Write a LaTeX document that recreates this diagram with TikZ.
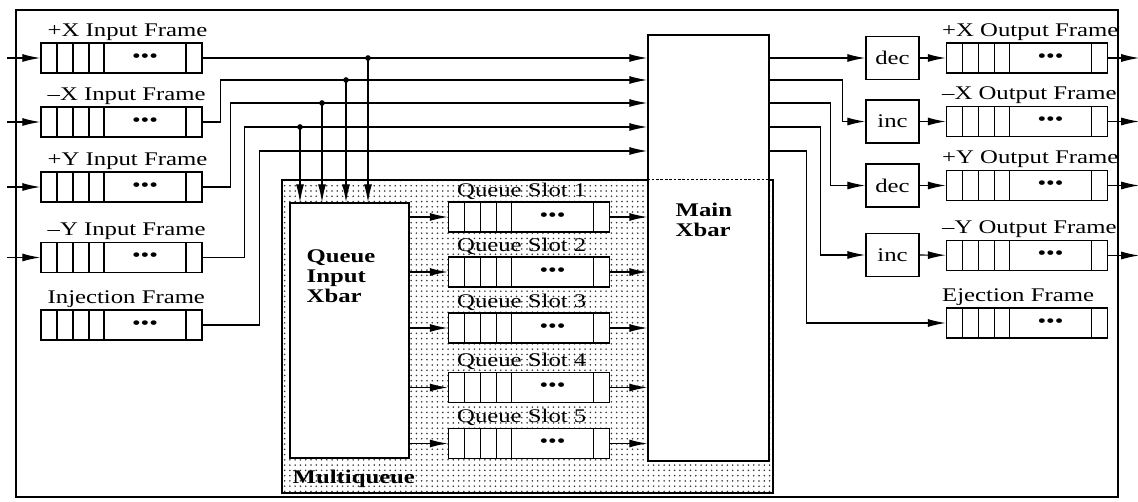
\documentclass[tikz,border=0pt]{standalone}
\usepackage{fontspec}
\setmainfont{Liberation Serif}[FakeStretch=1.28]
\usetikzlibrary{arrows.meta}
\usetikzlibrary{patterns}
\newcommand{\pxl}{0.02cm}
\newcommand{\lblfont}{\fontsize{11}{12}\selectfont}
\newcommand{\boldlbl}{\fontsize{11}{11.5}\selectfont\bfseries}
\tikzset{
  conn/.style={line width=0.7pt,-{Latex[length=3.6mm,width=1.6mm]}},
  lbl/.style={font=\lblfont,inner sep=0pt,anchor=base west},
  blk/.style={draw,line width=0.8pt,fill=white,inner sep=0pt},
  qframe/.style={blk,minimum width=161*\pxl,minimum height=30*\pxl,
    path picture={
      \foreach \d in {16,32,48,63,145}
        \draw[line width=0.6pt] ([xshift=\d*\pxl]path picture bounding box.south west)
          -- ([xshift=\d*\pxl]path picture bounding box.north west);
      \node[font=\lblfont,inner sep=0pt]
        at ([xshift=104*\pxl]path picture bounding box.west) {\textbullet\textbullet\textbullet};
    }},
  ilabel/.style={label={[lbl,xshift=7*\pxl,yshift=6*\pxl]north west:{#1}}},
  olabel/.style={label={[lbl,xshift=-4*\pxl,yshift=6*\pxl]north west:{#1}}},
  slabel/.style={label={[lbl,xshift=9*\pxl,yshift=5*\pxl]north west:{#1}}},
  pmbox/.style={blk,font=\lblfont,minimum width=53*\pxl,minimum height=43*\pxl},
}

\begin{document}
\begin{tikzpicture}[x=\pxl,y=-\pxl]
  \useasboundingbox (0,0) rectangle (1138,502);
  % multiqueue (dotted area) and the two crossbars
  \node[draw,line width=0.8pt,pattern=dots,pattern color=black!80,inner sep=0pt,
    minimum width=491*\pxl,minimum height=313*\pxl,
    label={[font=\boldlbl,inner sep=0pt,anchor=base west,xshift=11*\pxl,yshift=10*\pxl]south west:Multiqueue}]
    (mq) at (527.5,336.5) {};
  \node[blk,minimum width=121*\pxl,minimum height=426*\pxl,
    label={[font=\boldlbl,inner sep=0pt,align=left,anchor=north west,xshift=28*\pxl,yshift=-168*\pxl]north west:{Main\\Xbar}}]
    (mx) at (708.5,248) {};
  \draw[line width=0.8pt,dash pattern=on 1.5pt off 1pt] (mx.west |- mq.north) -- (mq.north east);
  \node[blk,minimum width=119*\pxl,minimum height=255*\pxl,
    label={[font=\boldlbl,inner sep=0pt,align=left,anchor=north west,xshift=17*\pxl,yshift=-47*\pxl]north west:{Queue\\Input\\Xbar}}]
    (qx) at (349.5,330.5) {};
  % queue slots
  \foreach \i/\y in {1/217,2/272,3/328,4/387.5,5/443.5}{
    \node[qframe,slabel={Queue Slot \i}] (s\i) at (529,\y) {};
    \draw[conn] (qx.east |- s\i) -- (s\i);
    \draw[conn] (s\i) -- (s\i -| mx.west);
  }
  % input frames
  \foreach \n/\y/\t in {ipx/58/+X Input Frame,imx/122/--X Input Frame,ipy/187/+Y Input Frame,
      imy/257.5/--Y Input Frame,inj/325/Injection Frame}{
    \node[qframe,ilabel={\t}] (\n) at (121.5,\y) {};
  }
  \foreach \n in {ipx,imx,ipy,imy}{
    \path (\n.west) ++(-33,0) coordinate (\n-in);
    \draw[conn] (\n-in) -- (\n);
  }
  % buses into and out of the main xbar
  \foreach \b/\y in {a/58,b/80,c/103,d/127,e/151}{
    \coordinate (bin\b) at (mx.west |- 0,\y);
    \coordinate (bout\b) at (mx.east |- 0,\y);
  }
  \draw[conn] (ipx) -- (bina);
  \draw[conn] (imx.east) -- ++(18,0) |- (binb);
  \draw[conn] (ipy.east) -- ++(28,0) |- (binc);
  \draw[conn] (imy.east) -- ++(42,0) |- (bind);
  \draw[conn] (inj.east) -- ++(57,0) |- (bine);
  % taps down into the queue input xbar
  \foreach \b/\x in {a/368,b/346,c/322,d/300}{
    \coordinate (tap\b) at (\x,0 |- bin\b);
    \fill (tap\b) circle (1.6pt);
    \draw[conn] (tap\b) -- (tap\b |- qx.north);
  }
  % dec / inc and output frames
  \node[pmbox] (decx) at (892.5,58) {dec};
  \node[pmbox] (incx) at (892.5,121.5) {inc};
  \node[pmbox] (decy) at (892.5,185.5) {dec};
  \node[pmbox] (incy) at (892.5,255) {inc};
  \foreach \n/\y/\t in {opx/58/+X Output Frame,omx/121.5/--X Output Frame,opy/185.5/+Y Output Frame,
      omy/255.5/--Y Output Frame,ej/323/Ejection Frame}{
    \node[qframe,olabel={\t}] (\n) at (1027,\y) {};
  }
  \draw[conn] (bouta) -- (decx);
  \draw[conn] (boutb) -- ++(73,0) |- (incx);
  \draw[conn] (boutc) -- ++(61,0) |- (decy);
  \draw[conn] (boutd) -- ++(51,0) |- (incy);
  \draw[conn] (boute) -- ++(37,0) |- (ej);
  \draw[conn] (decx) -- (opx);
  \draw[conn] (incx) -- (omx);
  \draw[conn] (decy) -- (opy);
  \draw[conn] (incy) -- (omy);
  \foreach \n in {opx,omx,opy,omy}{
    \path (\n.east) ++(31,0) coordinate (\n-out);
    \draw[conn] (\n) -- (\n-out);
  }
  % outer frame
  \draw[line width=1.6pt] (16,10) rectangle (1118,497);
\end{tikzpicture}
\end{document}
